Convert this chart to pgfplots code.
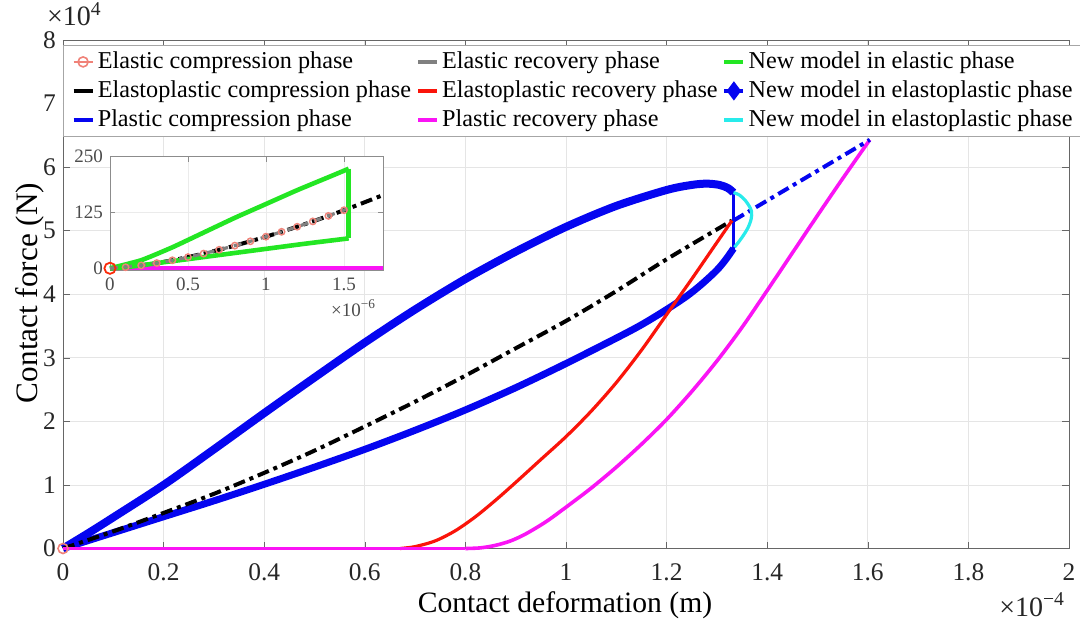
\documentclass[border=0pt]{standalone}
\usepackage{fontspec}
\setmainfont{Liberation Serif}
\usepackage{pgfplots}
\pgfplotsset{compat=1.18}
\definecolor{mblue}{RGB}{5,5,240}
\definecolor{mred}{RGB}{250,20,10}
\definecolor{mmag}{RGB}{250,20,245}
\definecolor{mgreen}{RGB}{35,230,35}
\definecolor{mcyan}{RGB}{40,235,235}
\definecolor{mpink}{RGB}{240,130,120}
\definecolor{mgray}{RGB}{128,128,128}
\tikzset{dashdot/.style={dash pattern=on 6pt off 2.5pt on 2pt off 2.5pt}}
\begin{document}
\begin{tikzpicture}
\begin{axis}[
  name=main, at={(0,0)}, anchor=south west,
  scale only axis, width=503pt, height=254.25pt,
  xmin=0, xmax=2, ymin=0, ymax=8,
  xtick={0,0.2,0.4,0.6,0.8,1,1.2,1.4,1.6,1.8,2},
  xticklabels={0,0.2,0.4,0.6,0.8,1,1.2,1.4,1.6,1.8,2},
  ytick={0,1,2,3,4,5,6,7,8},
  yticklabels={0,1,2,3,4,5,6,7,8},
  grid=major, grid style={black!10, line width=0.4pt},
  tick align=inside, major tick length=3.5pt,
  axis line style={black!60}, tick style={black!60},
  ticklabel style={font=\fontsize{12.7}{14}\selectfont, text=black!85},
  xticklabel style={yshift=-4pt},
  xlabel={Contact deformation (m)},
  ylabel={Contact force (N)},
  xlabel style={at={(axis description cs:0.499,-0.111)}, anchor=center, font=\fontsize{14.8}{16}\selectfont},
  ylabel style={at={(axis description cs:-0.0328,0.5025)}, anchor=center, rotate=0, font=\fontsize{15.6}{17}\selectfont},
  clip=false,
  legend columns=3,
  legend cell align=left,
  legend image code/.code={\path (-3pt,0pt) (9.5pt,0pt); \draw[mark repeat=2,mark phase=2,#1] plot coordinates {(0pt,0pt) (4.75pt,0pt) (9.5pt,0pt)};},
  legend style={at={(0,1)}, anchor=north west, yshift=-2.5pt, draw=black!35, fill=white,
    inner sep=1pt, column sep=0pt, row sep=0pt,
    nodes={inner xsep=1.5pt, inner ysep=2.3pt},
    font=\fontsize{12.1}{13}\selectfont},
]
% plastic compression phase (thick blue loop)
\addplot[mblue, line width=4pt, smooth, tension=0.5, forget plot] coordinates {
(0,0) (0.05,0.24) (0.1,0.49) (0.2,1.0) (0.3,1.56) (0.4,2.13) (0.5,2.69) (0.6,3.24) (0.7,3.76) (0.8,4.24) (0.9,4.67) (1.0,5.06) (1.1,5.39) (1.2,5.64) (1.25,5.72) (1.28,5.74) (1.305,5.72) (1.322,5.67) (1.333,5.60)};
\addplot[mblue, line width=1.6pt, forget plot] coordinates {(1.333,5.62) (1.333,4.70)};
\addplot[mblue, line width=3.5pt, smooth, tension=0.5, forget plot] coordinates {
(1.333,4.72) (1.318,4.55) (1.3,4.38) (1.27,4.16) (1.24,3.97) (1.2,3.76) (1.15,3.52) (1.1,3.31) (1.0,2.91) (0.9,2.53) (0.8,2.18) (0.7,1.86) (0.6,1.56) (0.5,1.28) (0.4,1.01) (0.3,0.75) (0.2,0.50) (0.1,0.25) (0,0)};
% elastoplastic compression phase
\addplot[black, line width=2pt, dashdot, smooth, forget plot] coordinates {
(0,0) (0.1,0.27) (0.2,0.56) (0.3,0.86) (0.4,1.19) (0.5,1.54) (0.6,1.92) (0.7,2.31) (0.8,2.72) (0.9,3.15) (1.0,3.58) (1.1,4.05) (1.2,4.55) (1.33,5.16)};
% elastoplastic recovery phase
\addplot[mred, line width=1.6pt, smooth, forget plot] coordinates {
(0.67,0) (0.7,0.03) (0.74,0.12) (0.78,0.28) (0.82,0.50) (0.86,0.76) (0.9,1.04) (0.95,1.40) (1.0,1.76) (1.05,2.16) (1.1,2.61) (1.15,3.12) (1.2,3.68) (1.25,4.24) (1.29,4.70) (1.33,5.16)};
% plastic recovery phase
\addplot[mmag, line width=1.8pt, forget plot] coordinates {(0,0) (0.80,0)};
\addplot[mmag, line width=1.8pt, smooth, tension=0.5, forget plot] coordinates {
(0.80,0) (0.83,0.01) (0.86,0.05) (0.89,0.12) (0.92,0.23) (0.96,0.42) (1.0,0.65) (1.05,0.95) (1.1,1.28) (1.15,1.64) (1.2,2.03) (1.25,2.47) (1.3,2.95) (1.35,3.48) (1.4,4.06) (1.45,4.65) (1.5,5.24) (1.55,5.82) (1.604,6.43)};
% new model in elastoplastic phase (blue dash-dot)
\addplot[mblue, line width=2pt, dashdot, forget plot] coordinates {(1.333,5.16) (1.604,6.43)};
% new model in elastoplastic phase (cyan)
\addplot[mcyan, line width=1.6pt, smooth, forget plot] coordinates {
(1.333,5.60) (1.345,5.56) (1.356,5.48) (1.364,5.39) (1.369,5.30) (1.368,5.18) (1.362,5.05) (1.353,4.93) (1.343,4.82) (1.335,4.74)};
% elastic phase near origin
\addplot[mpink, only marks, mark=o, mark size=2.5pt, line width=0.8pt, forget plot] coordinates {(0,0)};
% legend
\addlegendimage{mpink, line width=0.8pt, mark=o, mark size=2.5pt}
\addlegendentry{\makebox[154.5pt][l]{Elastic compression phase}}
\addlegendimage{mgray, line width=2.2pt}
\addlegendentry{\makebox[135.5pt][l]{Elastic recovery phase}}
\addlegendimage{mgreen, line width=2.2pt}
\addlegendentry{\makebox[166pt][l]{New model in elastic phase}}
\addlegendimage{black, line width=2.2pt}
\addlegendentry{\makebox[154.5pt][l]{Elastoplastic compression phase}}
\addlegendimage{mred, line width=2.2pt}
\addlegendentry{\makebox[135.5pt][l]{Elastoplastic recovery phase}}
\addlegendimage{mblue, line width=2.2pt, mark=diamond*, mark size=3pt}
\addlegendentry{\makebox[166pt][l]{New model in elastoplastic phase}}
\addlegendimage{mblue, line width=2.2pt}
\addlegendentry{\makebox[154.5pt][l]{Plastic compression phase}}
\addlegendimage{mmag, line width=2.2pt}
\addlegendentry{\makebox[135.5pt][l]{Plastic recovery phase}}
\addlegendimage{mcyan, line width=2.2pt}
\addlegendentry{\makebox[166pt][l]{New model in elastoplastic phase}}
\node[anchor=west, font=\fontsize{14}{15}\selectfont, text=black!85] at (rel axis cs:0,1) [xshift=-11.5pt, yshift=13pt] {\texttimes10\textsuperscript{4}};
\node[anchor=east, font=\fontsize{14}{15}\selectfont, text=black!85] at (rel axis cs:1,0) [xshift=1.5pt, yshift=-28pt] {\texttimes10\textsuperscript{−4}};
\end{axis}
% inset
\begin{axis}[
  at={(23.5pt,139pt)}, anchor=south west,
  scale only axis, width=136.5pt, height=56.9pt,
  xmin=0, xmax=1.75, ymin=-5, ymax=250,
  xtick={0,0.5,1,1.5}, xticklabels={0,0.5,1,1.5},
  ytick={0,125,250}, yticklabels={0,125,250},
  grid=major, grid style={black!8, line width=0.4pt},
  tick align=inside, major tick length=2.5pt,
  axis line style={black!45}, tick style={black!45},
  ticklabel style={font=\fontsize{9.5}{10}\selectfont, text=black!70},
  axis background/.style={fill=white},
  clip=false,
]
\addplot[mmag, line width=2pt] coordinates {(0,0) (1.75,0)};
\addplot[black, line width=2pt, dashdot, smooth] coordinates {
(0,0) (0.25,8.85) (0.5,25.05) (0.75,46.0) (1.0,70.84) (1.25,99.0) (1.5,130.1) (1.75,164.0)};
\addplot[mgreen, line width=2.3pt, smooth, tension=0.3] coordinates {
(0,0) (0.2,18) (0.4,47) (0.6,80) (0.8,113) (1.0,144) (1.2,175) (1.4,204) (1.53,223)};
\addplot[mgreen, line width=2.3pt] coordinates {(1.53,223) (1.53,67)};
\addplot[mgreen, line width=2.3pt, smooth, tension=0.3] coordinates {
(1.53,67) (1.25,55) (1.0,43.5) (0.75,32) (0.5,20.5) (0.3,11.5) (0.2,6.5) (0.1,2.5) (0,0)};
\addplot[mgray, line width=1.6pt, dash pattern=on 4pt off 3pt, smooth] coordinates {
(0,0) (0.25,8.85) (0.5,25.05) (0.75,46.0) (1.0,70.84) (1.25,99.0) (1.53,134.1)};
\addplot[mpink, only marks, mark=o, mark size=1.6pt, line width=0.7pt] coordinates {
(0.1,2.24) (0.2,6.34) (0.3,11.64) (0.4,17.92) (0.5,25.05) (0.6,32.92) (0.7,41.49) (0.8,50.69) (0.9,60.48) (1.0,70.84) (1.1,81.73) (1.2,93.12) (1.3,105.0) (1.4,117.35) (1.5,130.1)};
\addplot[mred!80!orange, only marks, mark=o, mark size=2.8pt, line width=0.9pt] coordinates {(0,0)};
\node[anchor=north east, font=\fontsize{9.5}{10}\selectfont, text=black!70] at (rel axis cs:1,0) [yshift=-11pt] {\texttimes10\textsuperscript{−6}};
\end{axis}
\pgfresetboundingbox
\useasboundingbox (-31.5pt,-39.75pt) rectangle (508.5pt,274.25pt);
\end{tikzpicture}
\end{document}
